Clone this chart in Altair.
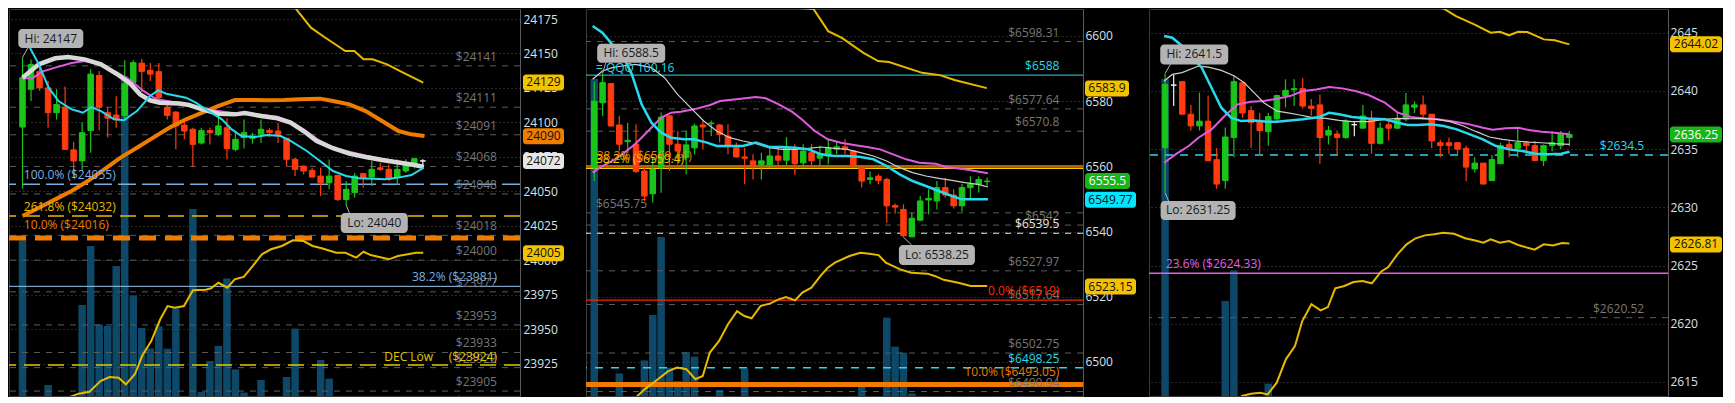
import altair as alt
import pandas as pd

FONT = "Open Sans"
BG = "#000000"
GREEN = "#1bc41b"
RED = "#ff3b0f"
DOJI = "#f2f2f2"
VOLC = "#0d4868"
GRID = "#505050"
GRAY_LINE = "#5c5c5c"
GRAY_TXT = "#777777"
AXIS_TXT = "#d8e0ec"
AXIS_LINE = "#5a5a5a"
YELLOW = "#e8b900"
ORANGE = "#ef7b00"
CYAN = "#28d8ec"
PINK = "#e05ae0"
MAWHITE = "#d8d8d8"
THINWHITE = "#cfcfcf"
LIGHTBLUE = "#79aee0"
BOXC = "#b3b3b3"
TAG_Y = "#f3c300"
TAG_O = "#f07d00"
TAG_W = "#e6e6e6"
TAG_G = "#17b517"
TAG_C = "#00e6ff"
HEIGHT = 387
SPACING = 66

# ---------------- Panel 1 ----------------
p1_open = [24096.6, 24124, 24137, 24125, 24107, 24111, 24080, 24072, 24094, 24134, 24107, 24105.3, 24105, 24129, 24143, 24137.8,
           24136.8, 24111, 24107.5, 24098, 24095, 24085, 24094, 24091.3, 24096, 24080.4, 24089, 24088.4, 24091.3, 24094.2, 24093.7, 24088.4,
           24073.2, 24068.3, 24065.2, 24061, 24056.2, 24061.5, 24044, 24049, 24062.8, 24060.3, 24067, 24065.9, 24059.9, 24064.7, 24070, 24072]
p1_high = [24147, 24145.7, 24142, 24130, 24124, 24126, 24086, 24100, 24138.5, 24137.3, 24111, 24119, 24145, 24145, 24146, 24143,
           24143, 24114, 24108, 24102, 24096, 24096, 24096, 24104.6, 24103, 24093.7, 24102, 24092.5, 24102, 24095.7, 24099.8, 24089,
           24074.4, 24068.3, 24067, 24067, 24073, 24062, 24057.5, 24063.5, 24063.5, 24072, 24070.7, 24069.5, 24073.2, 24073.2, 24074.4, 24073.2]
p1_low = [24052, 24115.5, 24123, 24096, 24102, 24080, 24060, 24065, 24078, 24094, 24089, 24096, 24101, 24128, 24122, 24130,
          24115.5, 24102, 24080.4, 24087.7, 24067.6, 24084, 24084, 24090, 24073, 24079, 24081, 24084.5, 24085, 24089.4, 24085, 24068.3,
          24061, 24062.3, 24059.9, 24046.6, 24051.4, 24043, 24040, 24045.4, 24052.6, 24053.8, 24064.7, 24057.5, 24054.5, 24063.5, 24066.6, 24068.3]
p1_close = [24132.4, 24142, 24125, 24107, 24113, 24080.4, 24072, 24092.5, 24135, 24111, 24103, 24102, 24128, 24143.3, 24137, 24135,
            24118, 24105, 24097.4, 24093.7, 24084, 24094, 24092.5, 24097.4, 24081, 24087.7, 24092.5, 24090, 24095, 24092.5, 24091.3, 24073.2,
            24065.9, 24064.7, 24060.3, 24056.2, 24061, 24044, 24051.4, 24061, 24059.9, 24065.9, 24065.9, 24058.7, 24065.9, 24069, 24073.6, 24072]
p1_vol = [8.43, 0.3, 0.3, 1.2, 0.3, 0.3, 0.3, 5.2, 8.15, 4.23, 4.15, 7.15, 16.65, 5.68, 4.05, 3.03,
          4.13, 3.02, 5.03, 0.3, 10.0, 0.85, 2.4, 3.15, 6.53, 1.98, 0.82, 0.3, 1.45, 0.3, 0.3, 1.6,
          4.02, 0.3, 0.3, 2.45, 1.52, 0.3, 0.45, 0.3, 0.3, 0.3, 0.3, 0.3, 0.3, 0.3, 0.3, 0.3]
p1_cyan_x = [0.58, 0.96, 1.92, 3.07, 4.22, 5.76, 7.1, 8.06, 9.21, 10.74, 11.9, 13.43, 14.97, 15.92, 16.88, 19.19, 20.34, 21.87,
             23.41, 24.56, 25.71, 27.24, 28.78, 30.31, 31.47, 33.38, 34.92, 36.45, 37.99, 39.52, 41.06, 42.59, 44.13, 45.66, 47.12]
p1_cyan_y = [24157.8, 24153.0, 24142.1, 24125.2, 24115.5, 24109.5, 24107.0, 24111.1, 24108.2, 24102.2, 24101.5, 24108.2, 24119.1,
             24123.2, 24120.8, 24117.9, 24114.3, 24108.2, 24102.2, 24094.9, 24090.1, 24089.4, 24090.8, 24090.1, 24086.5, 24079.2,
             24072.0, 24064.7, 24061.1, 24059.4, 24059.1, 24058.7, 24059.9, 24061.8, 24067.1]
p1_white_x = [0, 1.92, 3.84, 5.37, 7.29, 9.21, 11.13, 12.66, 13.81, 14.97, 16.12, 18.42, 19.57, 21.1, 23.02, 24.94, 26.09, 28.01,
              29.93, 31.47, 33.0, 34.54, 36.45, 38.37, 40.29, 42.21, 44.13, 46.05, 47.12]
p1_white_y = [24132.4, 24142.1, 24146.5, 24147.4, 24145.7, 24142.1, 24134.9, 24128.1, 24120.3, 24116.0, 24114.3, 24113.6, 24112.6,
              24109.5, 24106.3, 24105.8, 24106.8, 24104.6, 24102.9, 24099.8, 24093.7, 24086.5, 24081.2, 24077.3, 24074.9, 24072.7,
              24070.8, 24069.1, 24067.6]
p1_pink_x = [0, 1.15, 2.3, 3.84, 5.76, 7.29, 9.21, 11.13, 12.66, 14.2, 15.73, 18.42, 21.1, 24.94, 28.01, 29.93, 31.47, 33.0, 34.54,
             36.45, 40.29, 44.13, 47.12]
p1_pink_y = [24132.0, 24132.0, 24136.8, 24139.7, 24143.1, 24144.5, 24142.1, 24136.1, 24130.5, 24122.8, 24116.7, 24114.0, 24110.0,
             24106.5, 24105.5, 24104.0, 24100.5, 24095.0, 24088.0, 24081.6, 24075.8, 24071.5, 24068.3]
p1_orange_x = [0, 1.92, 3.84, 5.76, 7.67, 9.59, 11.51, 13.43, 15.35, 17.27, 19.19, 21.1, 23.02, 24.94, 26.86, 28.78, 30.7, 32.62,
               34.92, 36.45, 38.37, 40.29, 42.21, 44.13, 45.66, 47.2]
p1_orange_y = [24032.0, 24038.1, 24044.1, 24050.2, 24057.4, 24065.9, 24074.4, 24081.6, 24088.9, 24096.2, 24102.2, 24107.0, 24111.9,
               24116.2, 24116.2, 24116.0, 24116.2, 24116.7, 24117.2, 24115.5, 24113.1, 24108.2, 24101.0, 24093.7, 24091.3, 24090.1]
p1_ytop_x = [31.3, 32.15, 33.86, 35.56, 37.9, 38.97, 40.03, 41.1, 42.8, 44.28, 47.05]
p1_ytop_y = [24188.1, 24182.0, 24168.7, 24161.4, 24151.8, 24151.8, 24145.8, 24145.8, 24142.1, 24137.3, 24128.8]
p1_ybot_x = [4.67, 5.32, 6.6, 7.87, 9.15, 10.21, 11.28, 12.13, 13.19, 14.04, 15.11, 16.17, 17.03, 17.88, 18.95, 20.01, 21.5, 22.14,
             22.99, 24.06, 24.91, 25.97, 27.04, 28.1, 29.17, 30.45, 31.73, 33.0, 34.06, 35.13, 36.84, 37.9, 39.17, 40.03, 40.88,
             43.01, 44.08, 46.2, 47.05]
p1_ybot_y = [23896.6, 23900.2, 23903.1, 23904.5, 23912.3, 23915.2, 23914.7, 23909.9, 23917.2, 23930.4, 23941.3, 23957.1, 23966.7,
             23965.5, 23966.7, 23978.1, 23978.6, 23979.6, 23983.6, 23980.0, 23986.1, 23987.8, 23995.8, 24004.2, 24007.9, 24010.3,
             24014.4, 24013.9, 24010.3, 24008.6, 24005.4, 24005.4, 24001.8, 24006.1, 24003.7, 24000.6, 24003.0, 24005.4, 24005.4]
p1_gray_v = [24141, 24111, 24091, 24068, 24048, 24018, 24000, 23977, 23953, 23933, 23922, 23905, 23891]
p1_gray_t = ["$24141", "$24111", "$24091", "$24068", "$24048", "$24018", "$24000", "$23977", "$23953", "$23933", "$23922",
             "$23905", "$23891"]
p1_ticks = [23925, 23950, 23975, 24000, 24025, 24050, 24075, 24100, 24125, 24150, 24175]

# ---------------- Panel 2 ----------------
p2_open = [6559.6, 6579.5, 6585.4, 6572.7, 6567.6, 6566.8, 6558.6, 6551.6, 6559.6, 6575.5, 6566.8, 6562.7, 6565.7, 6572.7, 6573.1, 6572.7,
           6569.3, 6565.7, 6562.9, 6561.7, 6560.6, 6560.4, 6563.2, 6561.9, 6565.2, 6561.1, 6564.2, 6562.5, 6563.2, 6565.3, 6566, 6564.7,
           6559.6, 6556, 6557, 6556, 6548, 6546.8, 6538.4, 6543.5, 6549.7, 6549.4, 6553.5, 6551.2, 6547.9, 6553.5, 6554.5, 6555.3]
p2_high = [6586, 6588.5, 6585.6, 6575.5, 6573.4, 6572.9, 6559.6, 6562.7, 6576.5, 6575.8, 6570.9, 6570.9, 6573.1, 6573.9, 6574.1, 6572.9,
           6572.9, 6567.3, 6565.7, 6563.7, 6564.2, 6565.9, 6565.7, 6569, 6566.8, 6566.8, 6566.8, 6566.3, 6568.3, 6567.8, 6568.3, 6564.9,
           6560.1, 6558.4, 6557.6, 6556.5, 6548.6, 6548.4, 6545.8, 6550.9, 6553, 6555.5, 6556.5, 6553, 6554.7, 6557, 6557, 6556.5]
p2_low = [6555.5, 6575.5, 6572.2, 6564.7, 6564.2, 6558.1, 6549.4, 6548.9, 6551.9, 6558.6, 6560.6, 6557.6, 6563.7, 6565.2, 6569.3, 6567.3,
          6563.7, 6562.7, 6554.5, 6556, 6556, 6559.6, 6559.6, 6560.4, 6557.4, 6559.6, 6559.6, 6560.1, 6560.6, 6563.7, 6563.7, 6559.6,
          6553.5, 6554.5, 6554.5, 6542.7, 6545.5, 6538.25, 6538.3, 6543.2, 6545.3, 6546.8, 6550.4, 6547.1, 6546.1, 6549.9, 6552, 6554]
p2_close = [6580, 6585.7, 6572.4, 6566.8, 6568, 6558.4, 6550.9, 6559.1, 6575.1, 6566.8, 6564.7, 6566.6, 6572.4, 6572.1, 6573.3, 6569.8,
            6566.3, 6562.9, 6562.5, 6560.4, 6561.7, 6563.2, 6561.9, 6565.7, 6560.8, 6564.7, 6561.7, 6563.7, 6565.7, 6566, 6565.2, 6560.4,
            6555.5, 6556.5, 6555.7, 6547.9, 6547.5, 6538.7, 6544.1, 6549.4, 6550.2, 6553.5, 6551.2, 6547.9, 6553.5, 6554.5, 6556, 6555.5]
p2_vol = [16.5, 0.3, 0.3, 1.78, 0.3, 0.3, 2.43, 4.7, 8.6, 2.07, 1.4, 2.85, 2.62, 0.3, 0.3, 0.95,
          0.3, 0.3, 2.02, 0.3, 0.3, 0.3, 0.3, 0.3, 0.3, 0.3, 0.3, 0.3, 0.3, 0.3, 0.3, 0.3,
          1.15, 0.3, 0.3, 4.57, 3.12, 2.82, 0.78, 0.3, 0.3, 0.6, 0.3, 0.3, 0.3, 0.3, 0.3, 0.3]
p2_cyan_x = [-0.19, 0.98, 2.15, 3.32, 4.5, 5.67, 6.84, 8.02, 9.19, 10.75, 11.92, 13.49, 14.66, 16.22, 17.79, 19.35, 20.91, 22.47,
             24.04, 25.6, 27.16, 28.73, 30.29, 31.85, 33.41, 34.98, 36.54, 38.1, 39.67, 41.23, 42.79, 43.97, 45.92, 47.1]
p2_cyan_y = [6603.07, 6601.02, 6597.44, 6594.38, 6588.24, 6579.04, 6573.41, 6570.35, 6568.81, 6568.3, 6568.3, 6567.28, 6566.26,
             6566.26, 6566.26, 6567.28, 6565.95, 6565.95, 6565.75, 6565.23, 6563.7, 6563.19, 6563.19, 6562.88, 6562.17, 6560.12,
             6557.56, 6555.52, 6553.99, 6552.45, 6550.92, 6549.9, 6549.9, 6549.9]
p2_white_x = [-0.19, 0.98, 2.15, 3.32, 4.89, 6.84, 8.41, 9.97, 11.53, 13.1, 14.66, 16.22, 17.79, 19.35, 20.91, 22.47, 24.04, 25.6,
              27.16, 28.73, 30.29, 31.85, 33.41, 34.98, 36.54, 38.1, 39.67, 41.23, 42.79, 44.36, 45.92, 47.1]
p2_white_y = [6586.71, 6589.26, 6590.29, 6590.8, 6591.31, 6590.29, 6587.22, 6582.1, 6578.02, 6573.93, 6570.86, 6568.81, 6567.79,
              6566.97, 6565.75, 6565.23, 6565.23, 6565.54, 6565.95, 6565.54, 6565.23, 6564.21, 6563.19, 6561.66, 6559.61, 6558.08,
              6557.05, 6556.34, 6555.72, 6555.01, 6554.5, 6553.68]
p2_pink_x = [-0.19, 0.98, 2.15, 3.32, 4.89, 6.45, 8.02, 9.19, 10.36, 11.92, 13.88, 15.05, 17.0, 19.35, 20.52, 22.08, 23.65, 24.82,
             26.38, 27.95, 29.51, 31.07, 32.63, 34.2, 35.76, 37.32, 38.89, 40.84, 42.01, 44.36, 47.1]
p2_pink_y = [6558.08, 6560.12, 6561.66, 6563.7, 6566.77, 6570.86, 6574.95, 6576.48, 6576.79, 6577.5, 6578.83, 6580.06, 6580.57,
             6581.29, 6580.88, 6579.04, 6576.79, 6574.44, 6570.86, 6568.3, 6567.28, 6566.57, 6565.95, 6565.23, 6563.7, 6562.17,
             6561.14, 6560.84, 6559.81, 6559.1, 6557.87]
p2_ytop_x = [21.89, 24.47, 26.23, 27.99, 29.63, 32.21, 33.97, 35.26, 39.24, 41.35, 43.11, 46.97]
p2_ytop_y = [6610.7, 6608.6, 6608.3, 6601.5, 6599.4, 6594.8, 6592.3, 6592.0, 6588.7, 6588.0, 6586.5, 6584.0]
p2_ybot_x = [4.51, 6.03, 7.12, 8.85, 9.93, 11.02, 12.1, 12.98, 13.83, 14.92, 16.0, 17.09, 17.96, 18.83, 19.91, 21.0, 22.08, 22.94,
             24.03, 24.9, 25.98, 27.07, 27.94, 28.8, 30.54, 31.84, 32.92, 34.01, 34.88, 36.61, 37.91, 39.86, 40.73, 41.82, 43.55,
             45.06, 47.01]
p2_ybot_y = [6488.0, 6491.6, 6493.7, 6497.2, 6498.3, 6497.8, 6494.7, 6495.7, 6502.9, 6506.4, 6511.6, 6515.6, 6514.1, 6513.4,
             6517.2, 6517.9, 6519.2, 6519.9, 6518.9, 6521.3, 6522.8, 6526.4, 6528.9, 6530.5, 6532.5, 6533.5, 6533.2, 6532.8,
             6530.5, 6528.4, 6527.4, 6527.1, 6526.4, 6525.2, 6524.3, 6523.3, 6523.3]
p2_gray_v = [6598.31, 6577.64, 6570.8, 6542, 6527.97, 6517.64, 6502.75, 6490.94, 6484.5]
p2_gray_t = ["$6598.31", "$6577.64", "$6570.8", "$6542", "$6527.97", "$6517.64", "$6502.75", "$6490.94", "$6484.5"]
p2_ticks = [6500, 6520, 6540, 6560, 6580, 6600]

# ---------------- Panel 3 ----------------
p3_open = [2635.12, 2640.5, 2640.8, 2638, 2637, 2637.4, 2634.1, 2632.3, 2636, 2640.7, 2638.3, 2637.4, 2636.5, 2637.6, 2639.6, 2640.1,
           2640.2, 2638.7, 2638.8, 2636.2, 2636.3, 2636, 2637.1, 2636.8, 2637.6, 2635.5, 2637.1, 2636.8, 2637.6, 2638.6, 2638.8, 2638,
           2635.55, 2635.55, 2635.55, 2635.07, 2633.3, 2633.8, 2632.3, 2633.75, 2635.4, 2635.07, 2635.55, 2635.3, 2634.03, 2635.3, 2635.3, 2636]
p3_high = [2641.48, 2641.4, 2640.8, 2638.8, 2639.85, 2639.6, 2635.1, 2636.85, 2641.3, 2640.85, 2638.7, 2638.1, 2638.1, 2639.7, 2641, 2641,
           2641.1, 2639.3, 2639.7, 2637, 2636.6, 2637.56, 2637.4, 2638.8, 2638.3, 2637.3, 2637.6, 2638.1, 2639.85, 2639.1, 2639.6, 2638,
           2635.8, 2636, 2635.55, 2635.3, 2634.3, 2633.8, 2634.5, 2635.55, 2635.7, 2636.8, 2635.7, 2635.7, 2635.4, 2636.55, 2636.55, 2636.55]
p3_low = [2631.25, 2638.7, 2638, 2636.6, 2636.6, 2634, 2631.6, 2631.6, 2634.3, 2637.7, 2635.1, 2634.5, 2635.3, 2637.4, 2638.6, 2638.7,
          2638.5, 2637.9, 2633.75, 2635.4, 2634.55, 2635.9, 2636.1, 2636.8, 2634.6, 2635.4, 2635.75, 2636.7, 2637.4, 2638.1, 2637.7, 2635.1,
          2634.3, 2634.55, 2634.55, 2632.25, 2633, 2632, 2632.3, 2633.7, 2634.3, 2634.3, 2634.6, 2634.03, 2633.55, 2634.8, 2634.98, 2635.27]
p3_close = [2640.56, 2640.5, 2638, 2637, 2637.4, 2634, 2632, 2636.04, 2640.8, 2638.1, 2637.3, 2636.6, 2637.8, 2639.6, 2640.05, 2640.2,
            2638.7, 2638.5, 2636, 2636.6, 2636, 2637.4, 2637.1, 2637.85, 2635.5, 2636.8, 2636.8, 2637.6, 2638.8, 2638.8, 2638, 2635.7,
            2635.3, 2635.3, 2635, 2633.46, 2633.8, 2632, 2634.1, 2635.3, 2635.07, 2635.55, 2635.3, 2634.03, 2635.3, 2635.55, 2636.3, 2636.25]
p3_vol = [16.5, 0.3, 0.3, 0.3, 0.3, 0.3, 0.43, 5.4, 6.93, 0.3, 0.3, 0.3, 1.27, 0.3, 0.3, 0.3,
          0.3, 0.3, 0.3, 0.3, 0.3, 0.3, 0.3, 0.3, 0.3, 0.3, 0.3, 0.3, 0.3, 0.3, 0.3, 0.3,
          0.3, 0.3, 0.3, 0.3, 0.3, 0.3, 0.3, 0.3, 0.3, 0.3, 0.3, 0.3, 0.3, 0.3, 0.3, 0.3]
p3_cyan_x = [-0.11, 0.84, 1.98, 3.12, 4.26, 5.4, 6.54, 7.68, 8.82, 10.34, 11.86, 13.0, 14.52, 16.04, 17.94, 19.08, 20.22, 21.74,
             23.65, 25.55, 27.07, 28.21, 29.35, 30.87, 32.39, 33.91, 35.43, 36.95, 38.47, 39.99, 41.51, 43.03, 44.55, 46.07, 47.02]
p3_cyan_y = [2644.72, 2644.57, 2643.86, 2642.86, 2642.0, 2640.28, 2638.56, 2637.7, 2637.41, 2637.47, 2637.36, 2637.36, 2637.47,
             2637.56, 2637.76, 2638.13, 2637.99, 2637.76, 2637.64, 2637.56, 2637.27, 2637.07, 2637.07, 2637.13, 2636.99, 2636.7,
             2636.27, 2635.84, 2635.27, 2634.98, 2634.84, 2634.61, 2634.55, 2634.61, 2634.78]
p3_white_x = [-0.11, 0.84, 1.98, 3.88, 5.02, 6.54, 8.06, 9.2, 10.34, 11.48, 13.0, 14.14, 15.66, 17.18, 18.7, 20.22, 21.74, 23.65,
              25.55, 27.07, 28.59, 30.11, 31.63, 33.15, 34.67, 36.19, 37.71, 39.23, 40.75, 42.27, 43.79, 45.31, 47.02]
p3_white_y = [2640.85, 2641.42, 2641.57, 2642.14, 2642.05, 2641.77, 2641.28, 2640.71, 2639.85, 2638.99, 2638.27, 2638.13, 2637.93,
              2637.7, 2637.64, 2637.47, 2637.36, 2637.36, 2637.56, 2637.64, 2637.61, 2637.64, 2637.56, 2637.36, 2636.99, 2636.5,
              2636.04, 2635.84, 2635.7, 2635.61, 2635.55, 2635.47, 2635.41]
p3_pink_x = [-0.11, 1.22, 2.74, 3.88, 5.4, 6.92, 8.44, 9.96, 11.48, 13.0, 14.52, 16.04, 17.56, 19.08, 20.6, 22.12, 23.65, 25.55,
             27.07, 28.59, 30.11, 31.63, 33.15, 35.05, 36.95, 38.09, 39.61, 41.13, 42.27, 43.79, 45.31, 47.02]
p3_pink_y = [2633.83, 2634.55, 2635.27, 2635.98, 2636.7, 2637.84, 2638.85, 2639.07, 2639.13, 2639.33, 2639.56, 2639.99, 2640.13,
             2640.34, 2640.22, 2639.99, 2639.65, 2638.99, 2638.13, 2637.76, 2637.64, 2637.56, 2637.41, 2637.19, 2636.84, 2636.67,
             2636.79, 2636.84, 2636.64, 2636.5, 2636.41, 2636.27]
p3_ytop_x = [29.95, 32.54, 33.82, 35.94, 37.86, 38.93, 39.99, 41.05, 42.12, 44.04, 45.3, 47.0]
p3_ytop_y = [2647.72, 2647.01, 2646.43, 2645.72, 2645.0, 2645.09, 2644.78, 2645.09, 2645.06, 2644.43, 2644.35, 2644.0]
p3_ybot_x = [8.08, 8.94, 10.0, 11.06, 11.92, 12.98, 14.04, 15.1, 15.95, 17.01, 18.08, 18.93, 19.78, 20.84, 21.9, 22.96, 24.04,
             25.1, 25.95, 27.01, 28.07, 29.13, 30.2, 31.27, 32.33, 33.6, 34.88, 35.94, 37.0, 37.86, 38.92, 39.99, 41.05, 42.96,
             44.03, 45.09, 46.15, 47.0]
p3_ybot_y = [2613.08, 2613.79, 2613.99, 2614.07, 2613.93, 2614.93, 2616.94, 2618.08, 2620.23, 2621.67, 2621.15, 2621.43, 2623.04,
             2623.24, 2623.58, 2623.67, 2623.47, 2624.47, 2624.87, 2625.96, 2626.82, 2627.34, 2627.59, 2627.68, 2627.82, 2627.73,
             2627.34, 2627.17, 2626.96, 2627.25, 2626.96, 2627.1, 2626.76, 2626.36, 2626.82, 2626.73, 2626.93, 2626.9]
p3_gray_v = [2620.52]
p3_gray_t = ["$2620.52"]
p3_ticks = [2615, 2620, 2625, 2630, 2635, 2640, 2645]

NB = "\u00a0"

P1 = dict(
    width=511, xdom=[-1.0, 57.82], ydom=[23901.42, 24182.26], ticks=p1_ticks, lpad=3, tx=3, rx=55.7, lx=0.15,
    vgrid=[-0.8, 3.2, 7.2, 11.2, 15.2, 19.2, 23.2, 27.2, 31.2, 35.2, 39.2, 43.2, 47.2, 51.2, 55.2],
    open=p1_open, high=p1_high, low=p1_low, close=p1_close, vol=p1_vol,
    gray_v=p1_gray_v, gray_t=p1_gray_t,
    lines=[(p1_ytop_x, p1_ytop_y, YELLOW, 2), (p1_ybot_x, p1_ybot_y, YELLOW, 2), (p1_orange_x, p1_orange_y, ORANGE, 4),
           (p1_pink_x, p1_pink_y, PINK, 2), (p1_white_x, p1_white_y, MAWHITE, 4.5), (p1_cyan_x, p1_cyan_y, CYAN, 2)],
    levels=[
        dict(v=24055, color=LIGHTBLUE, w=1.5, dash=[18, 6], label="100.0% ($24055)", side="left"),
        dict(v=24032, color=YELLOW, w=1.5, dash=[16, 8], label="261.8% ($24032)", side="left"),
        dict(v=24016, color=ORANGE, w=5, dash=[17, 9], label="10.0% ($24016)", side="left", dy=-9),
        dict(v=23981, color="#9cc4e8", w=1, label="38.2% ($23981)", side="right", lcolor=LIGHTBLUE),
        dict(v=23924, color="#e0c800", w=1.5, dash=[16, 8], label="DEC Low" + NB * 5 + "($23924)", side="right", dy=-4),
    ],
    texts=[],
    boxes=[
        dict(x=3.32, y=24160.85, w=65, h=19, text="Hi: 24147", px=0.61, py=24153.96, cx=0, cy=24147),
        dict(x=41.3, y=24026.96, w=67, h=20, text="Lo: 24040", px=38.37, py=24034.2, cx=38, cy=24040),
    ],
    tags=[(24129, "24129", TAG_Y, "#111111", 41), (24090, "24090", TAG_O, "#111111", 41),
          (24072, "24072", TAG_W, "#111111", 41), (24005, "24005", TAG_Y, "#111111", 41)],
)

P2 = dict(
    width=497, xdom=[-0.387, 57.88], ydom=[6489.57, 6608.28], ticks=p2_ticks, lpad=2, tx=2, rx=55.65, lx=0.2,
    vgrid=[0.2, 4.2, 8.2, 12.2, 16.2, 20.2, 24.2, 28.2, 32.2, 36.2, 40.2, 44.2, 48.2, 52.2, 56.2],
    open=p2_open, high=p2_high, low=p2_low, close=p2_close, vol=p2_vol,
    gray_v=p2_gray_v, gray_t=p2_gray_t,
    lines=[(p2_ytop_x, p2_ytop_y, YELLOW, 2), (p2_ybot_x, p2_ybot_y, YELLOW, 2), (p2_pink_x, p2_pink_y, PINK, 2),
           (p2_white_x, p2_white_y, THINWHITE, 1.2), (p2_cyan_x, p2_cyan_y, CYAN, 2.5)],
    levels=[
        dict(v=6545.75, color=GRAY_LINE, w=1, dash=[6, 6], label="$6545.75", side="left", lcolor=GRAY_TXT),
        dict(v=6588, color=CYAN, w=1, label="$6588", side="right"),
        dict(v=6560.1, color=ORANGE, w=1.5),
        dict(v=6559.4, color="#f0d000", w=1.5, label="38.2% ($6559.4)", side="left"),
        dict(v=6539.5, color="#e8e8e8", w=1.2, dash=[6, 6], label="$6539.5", side="right"),
        dict(v=6519, color="#ff2a00", w=1.2, label="0.0% ($6519)", side="right"),
        dict(v=6498.25, color=CYAN, w=1.5, dash=[8, 8], label="$6498.25", side="right"),
        dict(v=6493.1, color=ORANGE, w=5, label="10.0% ($6493.05)", side="right", dy=-8),
    ],
    texts=[(0.3, 6560.1, "38.2% ($6559.41)", ORANGE, "left", -6), (0.2, 6590.2, "= QQQ 100.16", CYAN, "left", 0)],
    boxes=[
        dict(x=4.42, y=6594.72, w=68, h=19, text="Hi: 6588.5", px=1.37, py=6591.7, cx=1, cy=6588.5),
        dict(x=41.0, y=6532.82, w=76, h=20, text="Lo: 6538.25", px=37.98, py=6535.9, cx=37, cy=6538.25),
    ],
    tags=[(6583.9, "6583.9", TAG_Y, "#111111", 44), (6555.5, "6555.5", TAG_G, "#ffffff", 45),
          (6549.77, "6549.77", TAG_C, "#111111", 51), (6523.15, "6523.15", TAG_Y, "#111111", 51)],
)

P3 = dict(
    width=519, xdom=[-1.288, 57.89], ydom=[2613.79, 2647.04], ticks=p3_ticks, lpad=2, tx=2, rx=55.7, lx=0.08,
    vgrid=[0.6, 4.6, 8.6, 12.6, 16.6, 20.6, 24.6, 28.6, 32.6, 36.6, 40.6, 44.6, 48.6, 52.6, 56.6],
    open=p3_open, high=p3_high, low=p3_low, close=p3_close, vol=p3_vol,
    gray_v=p3_gray_v, gray_t=p3_gray_t,
    lines=[(p3_ytop_x, p3_ytop_y, YELLOW, 2), (p3_ybot_x, p3_ybot_y, YELLOW, 2), (p3_pink_x, p3_pink_y, PINK, 2),
           (p3_white_x, p3_white_y, THINWHITE, 1.2), (p3_cyan_x, p3_cyan_y, CYAN, 2.5)],
    levels=[
        dict(v=2634.5, color=CYAN, w=1.5, dash=[8, 7], label="$2634.5", side="right"),
        dict(v=2624.33, color="#e35ee3", w=1.5, label="23.6% ($2624.33)", side="left"),
    ],
    texts=[],
    boxes=[
        dict(x=3.39, y=2643.14, w=68, h=20, text="Hi: 2641.5", px=0.64, py=2642.31, cx=0, cy=2641.5),
        dict(x=3.84, y=2629.73, w=75, h=19, text="Lo: 2631.25", px=0.42, py=2630.53, cx=0, cy=2631.25),
    ],
    tags=[(2644.02, "2644.02", TAG_Y, "#111111", 52), (2636.25, "2636.25", TAG_G, "#ffffff", 52),
          (2626.81, "2626.81", TAG_Y, "#111111", 52)],
)


def build_panel(P):
    W = P["width"]
    xs = alt.Scale(domain=P["xdom"], nice=False, zero=False)

    def ys():
        return alt.Scale(domain=P["ydom"], nice=False, zero=False)

    def X(f):
        return alt.X(f"{f}:Q", scale=xs, axis=None)

    def Y(f):
        return alt.Y(f"{f}:Q", scale=ys(), axis=None)

    n = len(P["open"])
    df = pd.DataFrame({"i": list(range(n)), "o": P["open"], "h": P["high"], "l": P["low"],
                       "c": P["close"], "vol": P["vol"]})
    df["top"] = df[["o", "c"]].max(axis=1)
    df["bot"] = df[["o", "c"]].min(axis=1)
    df["dir"] = ["up" if c > o else ("down" if c < o else "flat") for o, c in zip(df["o"], df["c"])]
    dscale = alt.Scale(domain=["up", "down", "flat"], range=[GREEN, RED, DOJI])

    layers = []
    # axis + grid carrier (first layer, carries both axes)
    layers.append(alt.Chart(df).mark_point(opacity=0).encode(
        x=alt.X("i:Q", scale=xs, axis=alt.Axis(grid=True, values=P["vgrid"], labels=False, ticks=False,
                                               domain=False, title=None, gridColor=GRID, gridDash=[1, 3])),
        y=alt.Y("c:Q", scale=ys(), axis=alt.Axis(orient="right", values=P["ticks"], format="d", grid=True,
                                                 gridColor=GRID, gridDash=[1, 3], ticks=False, domain=True,
                                                 domainColor=AXIS_LINE, labelColor=AXIS_TXT, labelFont=FONT,
                                                 labelFontSize=12, labelPadding=P["lpad"], title=None,
                                                 labelOverlap=False, labelFlush=False)),
    ))

    # volume (its own scale)
    layers.append(alt.Chart(df).mark_bar(size=7.5, color=VOLC, clip=True).encode(
        x=X("i"), y=alt.Y("vol:Q", scale=alt.Scale(domain=[0, 20], range=[400, 0]), axis=None)))

    g = pd.DataFrame({"v": P["gray_v"], "t": P["gray_t"], "x": [P["rx"]] * len(P["gray_v"])})
    layers.append(alt.Chart(g).mark_rule(color=GRAY_LINE, strokeWidth=1, strokeDash=[6, 6], clip=True)
                  .encode(y=Y("v")))

    for L in P["levels"]:
        d = pd.DataFrame({"v": [L["v"]]})
        kw = dict(color=L["color"], strokeWidth=L.get("w", 1.2), clip=True)
        if L.get("dash"):
            kw["strokeDash"] = L["dash"]
        layers.append(alt.Chart(d).mark_rule(**kw).encode(y=Y("v")))

    # candles
    layers.append(alt.Chart(df).mark_rule(strokeWidth=1.2).encode(
        x=X("i"), y=Y("l"), y2=alt.Y2("h"), color=alt.Color("dir:N", scale=dscale, legend=None)))
    layers.append(alt.Chart(df).mark_bar(size=5.5, strokeWidth=1).encode(
        x=X("i"), y=Y("bot"), y2=alt.Y2("top"),
        color=alt.Color("dir:N", scale=dscale, legend=None),
        stroke=alt.Stroke("dir:N", scale=dscale, legend=None)))

    # studies
    for (lx, ly, col, wd) in P["lines"]:
        d = pd.DataFrame({"x": lx, "y": ly})
        layers.append(alt.Chart(d).mark_line(color=col, strokeWidth=wd, clip=True)
                      .encode(x=X("x"), y=Y("y")))

    # labels
    layers.append(alt.Chart(g).mark_text(align="right", baseline="alphabetic", dy=-5, color=GRAY_TXT,
                                         font=FONT, fontSize=12, clip=True)
                  .encode(x=X("x"), y=Y("v"), text="t:N"))
    for L in P["levels"]:
        if not L.get("label"):
            continue
        d = pd.DataFrame({"v": [L["v"]], "x": [P["rx"] if L["side"] == "right" else P["lx"]], "t": [L["label"]]})
        layers.append(alt.Chart(d).mark_text(align=L["side"], baseline="alphabetic", dy=L.get("dy", -5),
                                             color=L.get("lcolor", L["color"]), font=FONT, fontSize=12, clip=True)
                      .encode(x=X("x"), y=Y("v"), text="t:N"))
    for (tx_, tv, tt, tc, ta, tdy) in P["texts"]:
        d = pd.DataFrame({"x": [tx_], "v": [tv], "t": [tt]})
        layers.append(alt.Chart(d).mark_text(align=ta, baseline="alphabetic" if tdy else "middle", dy=tdy,
                                             color=tc, font=FONT, fontSize=12, clip=True)
                      .encode(x=X("x"), y=Y("v"), text="t:N"))

    # Hi / Lo bubbles
    for B in P["boxes"]:
        d = pd.DataFrame({"x": [B["x"]], "y": [B["y"]], "t": [B["text"]], "px": [B["px"]], "py": [B["py"]],
                          "cx": [B["cx"]], "cy": [B["cy"]]})
        layers.append(alt.Chart(d).mark_rule(color=BOXC, strokeWidth=1)
                      .encode(x=X("px"), x2=alt.X2("cx"), y=Y("py"), y2=alt.Y2("cy")))
        layers.append(alt.Chart(d).mark_rect(color=BOXC, cornerRadius=4, xOffset=-B["w"] / 2, x2Offset=B["w"] / 2,
                                             yOffset=-B["h"] / 2, y2Offset=B["h"] / 2)
                      .encode(x=X("x"), x2=alt.X2("x"), y=Y("y"), y2=alt.Y2("y")))
        layers.append(alt.Chart(d).mark_text(color="#1a1a1a", font=FONT, fontSize=12, align="center",
                                             baseline="middle")
                      .encode(x=X("x"), y=Y("y"), text="t:N"))

    # price tags on the axis
    for (v, t, bg, fg, w) in P["tags"]:
        d = pd.DataFrame({"v": [v], "t": [t]})
        layers.append(alt.Chart(d).mark_rect(color=bg, cornerRadius=3, yOffset=-8, y2Offset=8)
                      .encode(x=alt.value(W + P["tx"]), x2=alt.value(W + P["tx"] + w), y=Y("v"), y2=alt.Y2("v")))
        layers.append(alt.Chart(d).mark_text(color=fg, font=FONT, fontSize=12, align="center", baseline="middle")
                      .encode(x=alt.value(W + P["tx"] + w / 2), y=Y("v"), text="t:N"))

    return alt.layer(*layers).resolve_scale(y="independent").properties(width=W, height=HEIGHT)


chart = alt.hconcat(build_panel(P1), build_panel(P2), build_panel(P3), spacing=SPACING, bounds="flush", padding=0)
chart = chart.configure(background=BG, font=FONT).configure_view(stroke="#3a3a3a", strokeWidth=1)

chart.save("out.html", embed_options={"renderer": "svg", "actions": False})
